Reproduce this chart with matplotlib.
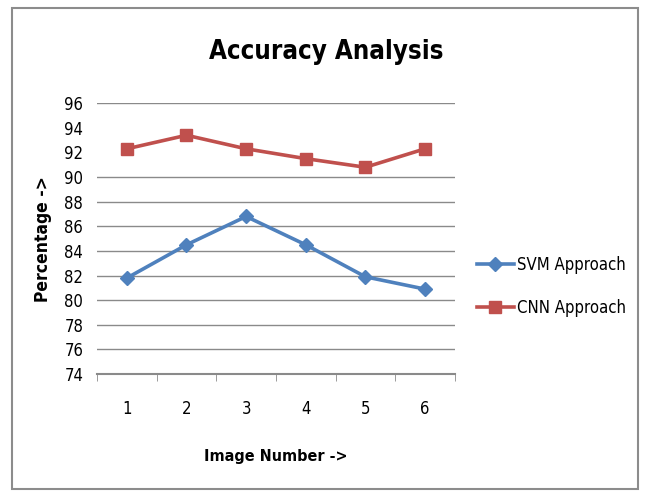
import matplotlib
matplotlib.use('Agg')
import matplotlib.pyplot as plt
from matplotlib.patches import Rectangle

plt.rcParams['font.family'] = ['DejaVu Sans']
plt.rcParams['font.stretch'] = 'condensed'

images = [1, 2, 3, 4, 5, 6]
svm = [81.8, 84.5, 86.8, 84.5, 81.9, 80.9]
cnn = [92.3, 93.4, 92.3, 91.5, 90.8, 92.3]
yticks = list(range(74, 97, 2))
# the reference shows no gridlines at 92 and 94
grid_vals = [76, 78, 80, 82, 84, 86, 88, 90, 96]

fig = plt.figure(figsize=(6.47, 4.95), dpi=100)
fig.patches.append(Rectangle((0.019, 0.012), 0.967, 0.972, transform=fig.transFigure,
                             fill=False, edgecolor='#8c8c8c', lw=1.5))

ax = fig.add_axes([0.150, 0.2444, 0.553, 0.547])
for g in grid_vals:
    ax.axhline(g, color='#8a8a8a', lw=1, zorder=1)

ax.plot(images, svm, color='#4F81BD', lw=2.6, marker='D', ms=7, label='SVM Approach', zorder=3)
ax.plot(images, cnn, color='#C0504D', lw=2.6, marker='s', ms=8.5, label='CNN Approach', zorder=3)

ax.set_xlim(0.5, 6.5)
ax.set_ylim(74, 96)
ax.set_yticks(yticks)
ax.set_xticks(images)
ax.set_xticks([i + 0.5 for i in range(0, 7)], minor=True)
ax.tick_params(axis='y', length=0, labelsize=12, pad=10)
ax.tick_params(axis='x', which='major', length=0, labelsize=12, pad=19)
ax.tick_params(axis='x', which='minor', length=5, color='#8a8a8a', direction='out')
for s in ['top', 'right', 'left']:
    ax.spines[s].set_visible(False)
ax.spines['bottom'].set_color('#8a8a8a')
ax.spines['bottom'].set_linewidth(1.5)

ax.set_xlabel('Image Number ->', fontsize=11.5, fontweight='bold', labelpad=22)
ax.set_ylabel('Percentage ->', fontsize=12.5, fontweight='bold', labelpad=9)
fig.text(0.505, 0.895, 'Accuracy Analysis', ha='center', va='center', fontsize=18.5, fontweight='bold')

ax.legend(loc='center left', bbox_to_anchor=(1.02, 0.325), frameon=False, fontsize=12,
          handlelength=2.2, labelspacing=1.5, handletextpad=0.2)

fig.savefig('out.png', dpi=100)
